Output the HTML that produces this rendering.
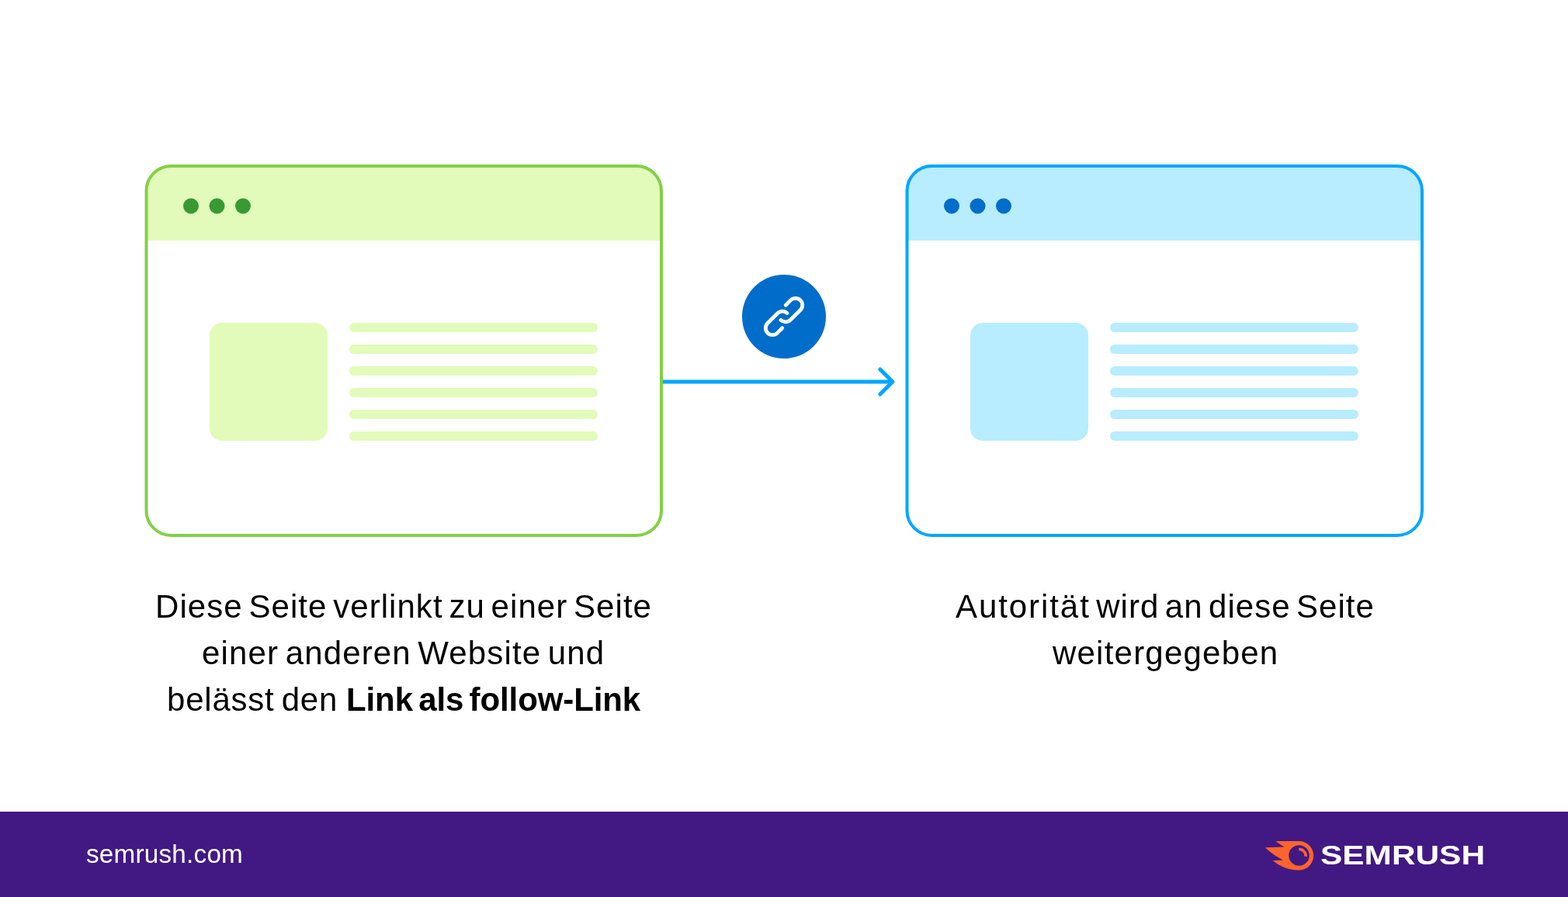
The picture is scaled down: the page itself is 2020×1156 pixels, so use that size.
<!DOCTYPE html>
<html lang="de">
<head>
<meta charset="utf-8">
<title>Follow-Link – Semrush</title>
<style>
  html, body { margin: 0; padding: 0; }
  body {
    width: 2020px; height: 1156px; overflow: hidden; position: relative;
    background: #ffffff;
    font-family: "Liberation Sans", sans-serif;
    color: #000;
  }
  .cap { position: absolute; margin: 0; font-size: 42px; line-height: 60px; white-space: nowrap; will-change: transform; }
  .cap b { font-weight: 700; }
  #l1 { left: 200px; top: 752px; letter-spacing: 1.05px; word-spacing: -4.94px; }
  #l2 { left: 260px; top: 812px; letter-spacing: 1.135px; word-spacing: -4.22px; }
  #l3 { left: 214.5px; top: 872px; letter-spacing: 0.78px; word-spacing: -3.28px; }
  #l3 b { letter-spacing: -0.1px; word-spacing: -4.3px; margin-left: 1.7px; }
  #r1 { left: 1230.5px; top: 752px; letter-spacing: 1.02px; word-spacing: -5.2px; }
  #r1 .w { letter-spacing: 1.925px; }
  #r2 { left: 1355.6px; top: 812px; letter-spacing: 1.217px; }
  .footer { position: absolute; left: 0; top: 1046px; width: 2020px; height: 110px; background: #421983; }
  .site { position: absolute; left: 110.5px; top: 1081px; font-size: 33.3px; line-height: 40px; letter-spacing: 0.2px; color: #fff; white-space: nowrap; will-change: transform; }
  .brand { position: absolute; left: 1701px; top: 1082px; font-size: 35.2px; line-height: 40px; font-weight: 700; color: #fff; white-space: nowrap; transform-origin: 0 0; transform: scaleX(1.205); will-change: transform; }
  svg { position: absolute; left: 0; top: 0; overflow: visible; }
</style>
</head>
<body>
  <svg width="2020" height="1046" viewBox="0 0 2020 1046" role="img" aria-label="Follow-Link Diagramm">
    <g transform="translate(187 212)">
      <rect x="1.5" y="2" width="663.5" height="476" rx="32" ry="32" fill="#ffffff"/>
      <path d="M1.5 98 V34 A32 32 0 0 1 33.5 2 H633 A32 32 0 0 1 665 34 V98 Z" fill="#e2fbba"/>
      <rect x="1.5" y="2" width="663.5" height="476" rx="32" ry="32" fill="none" stroke="#82d047" stroke-width="4"/>
      <circle cx="59" cy="53.5" r="10" fill="#379a33"/>
      <circle cx="92.5" cy="53.5" r="10" fill="#379a33"/>
      <circle cx="126" cy="53.5" r="10" fill="#379a33"/>
      <rect x="83" y="204" width="152" height="152" rx="16" fill="#e2fbba"/>
      <rect x="263" y="204" width="320" height="12" rx="6" fill="#e2fbba"/>
      <rect x="263" y="232" width="320" height="12" rx="6" fill="#e2fbba"/>
      <rect x="263" y="260" width="320" height="12" rx="6" fill="#e2fbba"/>
      <rect x="263" y="288" width="320" height="12" rx="6" fill="#e2fbba"/>
      <rect x="263" y="316" width="320" height="12" rx="6" fill="#e2fbba"/>
      <rect x="263" y="344" width="320" height="12" rx="6" fill="#e2fbba"/>
    </g>
    <g transform="translate(1167 212)">
      <rect x="1.5" y="2" width="663.5" height="476" rx="32" ry="32" fill="#ffffff"/>
      <path d="M1.5 98 V34 A32 32 0 0 1 33.5 2 H633 A32 32 0 0 1 665 34 V98 Z" fill="#b8ecff"/>
      <rect x="1.5" y="2" width="663.5" height="476" rx="32" ry="32" fill="none" stroke="#00a6ff" stroke-width="4"/>
      <circle cx="59" cy="53.5" r="10" fill="#006dca"/>
      <circle cx="92.5" cy="53.5" r="10" fill="#006dca"/>
      <circle cx="126" cy="53.5" r="10" fill="#006dca"/>
      <rect x="83" y="204" width="152" height="152" rx="16" fill="#b8ecff"/>
      <rect x="263" y="204" width="320" height="12" rx="6" fill="#b8ecff"/>
      <rect x="263" y="232" width="320" height="12" rx="6" fill="#b8ecff"/>
      <rect x="263" y="260" width="320" height="12" rx="6" fill="#b8ecff"/>
      <rect x="263" y="288" width="320" height="12" rx="6" fill="#b8ecff"/>
      <rect x="263" y="316" width="320" height="12" rx="6" fill="#b8ecff"/>
      <rect x="263" y="344" width="320" height="12" rx="6" fill="#b8ecff"/>
    </g>
    <g fill="none" stroke="#00a6ff" stroke-width="5" stroke-linecap="round" stroke-linejoin="round">
      <path d="M854 492 H1149.8" stroke-linecap="butt"/>
      <path d="M1133.9 476 L1149.8 492 L1133.9 508"/>
    </g>
    <circle cx="1010" cy="408" r="54" fill="#006dca"/>
    <g transform="translate(1010 408) rotate(-45)" fill="none" stroke="#fff" stroke-width="4.8" stroke-linecap="round" stroke-linejoin="round">
      <path d="M12.08 -8.88 L20.99 -8.88 A8.88 8.88 0 0 1 20.99 8.88 L2.83 8.88 A8.88 8.88 0 0 1 -6.04 0.4"/>
      <path d="M-12.08 8.88 L-20.99 8.88 A8.88 8.88 0 0 1 -20.99 -8.88 L-2.83 -8.88 A8.88 8.88 0 0 1 6.04 -0.4"/>
    </g>
  </svg>

  <p class="cap" id="l1">Diese Seite verlinkt zu einer Seite</p>
  <p class="cap" id="l2">einer anderen Website und</p>
  <p class="cap" id="l3">belässt den <b>Link als follow-Link</b></p>
  <p class="cap" id="r1"><span class="w">Autorität</span> wird an diese Seite</p>
  <p class="cap" id="r2">weitergegeben</p>

  <footer class="footer"></footer>
  <div class="site" id="site">semrush.com</div>
  <svg width="2020" height="1156" viewBox="0 0 2020 1156" aria-hidden="true">
    <path fill="#ff642d" fill-rule="evenodd" d="M1643.4 1084 H1673.5 A18.7 18.7 0 0 1 1673.5 1121.4 C1660 1121.4 1648 1116 1639.7 1108.9 L1653 1108.5 C1643 1103.5 1636 1098 1629.9 1092.3 L1654.6 1091.6 C1651 1089.4 1647 1086.8 1643.3 1084 Z M1673.5 1089.2 a13.25 13.25 0 1 0 0 26.5 a13.25 13.25 0 1 0 0 -26.5 Z"/>
    <path fill="none" stroke="#ff642d" stroke-width="3.6" d="M1673.3 1094.55 A8.3 8.3 0 0 1 1682.05 1103.8"/>
  </svg>
  <div class="brand" id="brand">SEMRUSH</div>
</body>
</html>
